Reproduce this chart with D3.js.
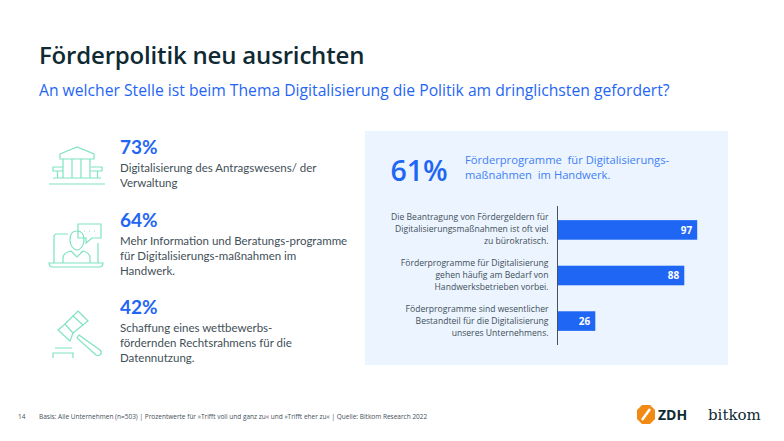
<!DOCTYPE html>
<html>
<head>
<meta charset="utf-8">
<script src="https://d3js.org/d3.v7.min.js"></script>
<style>
  html, body { margin: 0; padding: 0; background: #fff; }
  svg { display: block; }
  text { font-family: "Open Sans", sans-serif; }
  .icon path { fill: none; stroke: #7fe3c0; stroke-width: 1.2px; }
</style>
</head>
<body>
<svg width="784" height="441"></svg>
<script>
// Bar chart data (right panel)
var barLabels = [
  ["Die Beantragung von Fördergeldern für", "Digitalisierungsmaßnahmen ist oft viel", "zu bürokratisch."],
  ["Förderprogramme für Digitalisierung", "gehen häufig am Bedarf von", "Handwerksbetrieben vorbei."],
  ["Föderprogramme sind wesentlicher", "Bestandteil für die Digitalisierung", "unseres Unternehmens."]
];
var barValues = [97, 88, 26];

// Left column
var statValues = ["73%", "64%", "42%"];
var statLines = [
  ["Digitalisierung des Antragswesens/ der", "Verwaltung"],
  ["Mehr Information und Beratungs-programme", "für Digitalisierungs-maßnahmen im", "Handwerk."],
  ["Schaffung eines wettbewerbs-", "fördernden Rechtsrahmens für die", "Datennutzung."]
];
var statTop = [154, 227, 314];

var blue = "#1f66f5", dark = "#0f2a33", grey = "#3f4f58";
var svg = d3.select("svg");

// Titles
svg.append("text").attr("x", 39).attr("y", 63.5)
  .style("font-size", "24px").style("font-weight", 600).style("letter-spacing", "-0.18px").attr("fill", dark)
  .text("Förderpolitik neu ausrichten");
svg.append("text").attr("x", 39).attr("y", 95.5)
  .style("font-size", "15.7px").attr("fill", blue)
  .text("An welcher Stelle ist beim Thema Digitalisierung die Politik am dringlichsten gefordert?");

// Left column stats
statValues.forEach(function (d, i) {
  svg.append("text").attr("x", 120).attr("y", statTop[i])
    .style("font-family", "Lato, sans-serif")
    .style("font-size", "19px").style("font-weight", 700).attr("fill", blue).text(d);
  var t = svg.append("text").style("font-family", "Lato, sans-serif")
    .style("font-size", "11.5px").attr("fill", grey);
  statLines[i].forEach(function (line, j) {
    t.append("tspan").attr("x", 120).attr("y", statTop[i] + 18 + j * 15).text(line);
  });
});

// Icons
var bank = svg.append("g").attr("class", "icon");
bank.append("path").attr("d", "M60 154 L77 147 L94 154 V159 H60 Z");
bank.append("path").attr("d", "M63 159 V178 M72 159 V178 M81 159 V178 M90 159 V178");
bank.append("path").attr("d", "M63 167 H53 V171 H63 M57.5 171 V178 M91 167 H102 V171 H91 M97.5 171 V178");
bank.append("path").attr("d", "M53 178 H101 M49 184 H105");

var person = svg.append("g").attr("class", "icon");
person.append("path").attr("d", "M68 234 H57 Q54 234 54 237 V263 M98 243 V263");
person.append("path").attr("d", "M78 224 H101 V238 H92 L86 243 V238 H78 Z");
person.append("path").attr("d", "M84 231 H85 M89 231 H90 M94 231 H95");
person.append("path").attr("d", "M77 231 C82 231 84 235 84 240 C84 246 80 250 77 250 C74 250 70 246 70 240 C70 235 72 231 77 231 Z");
person.append("path").attr("d", "M63 263 V258 C63 254 67 252 71 251 L77 257 L83 251 C87 252 90 254 90 258 V263");
person.append("path").attr("d", "M49 263 H103 C103 266 101 267 99 267 H53 C51 267 49 266 49 263 Z");

var gavel = svg.append("g").attr("class", "icon");
gavel.append("path").attr("d", "M78 311 L88 321 L83 325 L73 316 Z");
gavel.append("path").attr("d", "M58 330 L65 324 L73 333 L70 341 Z");
gavel.append("path").attr("d", "M73 316 L65 324 M83 325 L73 333");
gavel.append("path").attr("d", "M79 335 L100 350 C103 353 100 357 96 355 L77 338 Z");
gavel.append("path").attr("d", "M55 348 H72 M53 358 V353 H73 V358");

// Right panel
svg.append("rect").attr("x", 365).attr("y", 131).attr("width", 363).attr("height", 234).attr("fill", "#ebf4ff");
svg.append("text").attr("x", 390.5).attr("y", 180.5)
  .style("font-size", "28.5px").style("font-weight", 600).attr("fill", blue).text("61%");
var hl = svg.append("text").style("font-size", "11.2px").attr("fill", "#3f7ff5");
["Förderprogramme  für Digitalisierungs-", "maßnahmen  im Handwerk."].forEach(function (line, j) {
  hl.append("tspan").attr("x", 465).attr("y", 164 + j * 15).attr("xml:space", "preserve").text(line);
});

// Bars
var x = d3.scaleLinear().domain([0, 100]).range([558, 701.5]);
var y = d3.scaleBand().domain(d3.range(barValues.length)).range([206, 345]).paddingInner(0.57).paddingOuter(0.31);

svg.selectAll(".bar").data(barValues).enter().append("rect")
  .attr("class", "bar")
  .attr("x", x(0))
  .attr("y", function (d, i) { return y(i); })
  .attr("width", function (d) { return x(d) - x(0); })
  .attr("height", y.bandwidth())
  .attr("fill", blue);

svg.selectAll(".val").data(barValues).enter().append("text")
  .attr("class", "val")
  .attr("x", function (d) { return x(d) - 5; })
  .attr("y", function (d, i) { return y(i) + y.bandwidth() / 2 + 3.6; })
  .attr("text-anchor", "end").attr("fill", "#fff")
  .style("font-size", "10px").style("font-weight", 700)
  .text(function (d) { return d; });

barLabels.forEach(function (lines, i) {
  var t = svg.append("text").attr("text-anchor", "end").attr("fill", grey).style("font-size", "8.6px");
  lines.forEach(function (line, j) {
    t.append("tspan").attr("x", 548.5)
      .attr("y", y(i) + y.bandwidth() / 2 + 2.5 + (j - 1) * 12).text(line);
  });
});

svg.append("line").attr("x1", 557.5).attr("x2", 557.5).attr("y1", 206).attr("y2", 345)
  .attr("stroke", "#44545c").attr("stroke-width", 1);

// Footer
svg.append("text").attr("x", 18).attr("y", 419).style("font-size", "6.5px").attr("fill", grey).text("14");
svg.append("text").attr("x", 39).attr("y", 419).style("font-size", "6.5px").attr("fill", grey)
  .text("Basis: Alle Unternehmen (n=503)  |  Prozentwerte für »Trifft voll und ganz zu« und »Trifft eher zu«  |  Quelle: Bitkom Research 2022");

// Logos
svg.append("path").attr("d", "M642 405 H650 L655 410 V419 L650 424 H642 L637 419 V410 Z").attr("fill", "#f18a13");
svg.append("path").attr("d", "M642 420 L650 409").attr("stroke", "#fff").attr("stroke-width", 2.5);
svg.append("text").attr("x", 658).attr("y", 419.5).style("font-size", "14px").style("font-weight", 700).attr("fill", dark).text("ZDH");
svg.append("text").attr("x", 708).attr("y", 420).style("font-family", "'DejaVu Serif', serif").style("font-size", "15px").attr("fill", dark).text("bitkom");
</script>
</body>
</html>
